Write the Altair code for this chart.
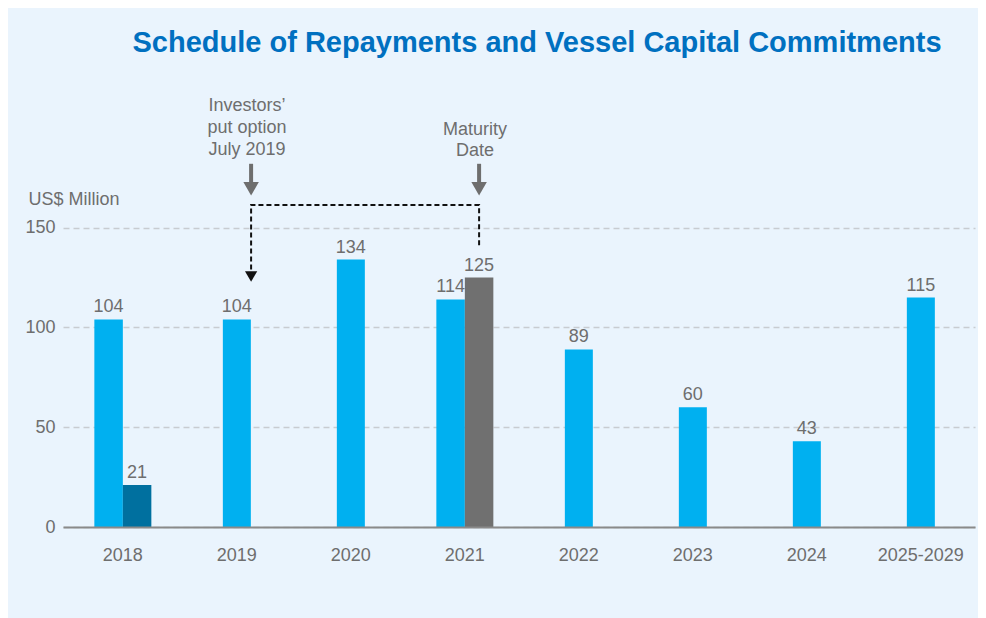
import altair as alt
import pandas as pd

# ---------------- data ----------------
categories = ["2018", "2019", "2020", "2021", "2022", "2023", "2024", "2025-2029"]
repayments = [104, 104, 134, 114, 89, 60, 43, 115]
extra_categories = ["2018", "2021"]
extra_values = [21, 125]
extra_kinds = ["Vessel capital commitments", "Bond maturity"]

note_lines = ["Investors\u2019", "put option", "July 2019", "Maturity", "Date"]
note_cats = ["2019", "2019", "2019", "2021", "2021"]
note_y = [211, 200, 189, 199, 188.5]

arrow_cats = ["2019", "2021"]
arrow_top = [182, 182]
arrow_bottom = [172, 172]
arrow_head = [169.5, 169.5]

path_cats = ["2019", "2019", "2021", "2021"]
path_y = [129, 161.4, 161.4, 141]
path_head_cat = ["2019"]
path_head_y = [125.5]

kinds = ["Repayments", "Vessel capital commitments", "Bond maturity"]
kind_colors = ["#00b0f0", "#00709f", "#707070"]

rows = []
for c, v in zip(categories, repayments):
    rows.append({"cat": c, "value": v, "kind": "Repayments",
                 "slot": "L" if c in extra_categories else "C"})
for c, v, k in zip(extra_categories, extra_values, extra_kinds):
    rows.append({"cat": c, "value": v, "kind": k, "slot": "R"})
df = pd.DataFrame(rows)
singles = df[df.slot == "C"]
pairs = df[df.slot != "C"]

notes = pd.DataFrame({"cat": note_cats, "value": note_y, "text": note_lines, "slot": "R"})
arrows = pd.DataFrame({"cat": arrow_cats, "value": arrow_top, "y2": arrow_bottom,
                       "h": arrow_head, "slot": "R"})
path = pd.DataFrame({"cat": path_cats, "value": path_y, "order": list(range(len(path_y))), "slot": "R"})
phead = pd.DataFrame({"cat": path_head_cat, "value": path_head_y, "slot": "R"})

# ---------------- styles ----------------
FONT = "Liberation Sans"
GRAY_TXT = "#6e6e6e"

xscale = alt.Scale(domain=categories, paddingInner=0.5, paddingOuter=0.25, align=0.55)
yscale = alt.Scale(domain=[0, 230], nice=False)
offscale = alt.Scale(domain=["L", "R"], paddingInner=0, paddingOuter=0)

X = alt.X("cat:N", scale=xscale, sort=categories,
          axis=alt.Axis(title=None, labelAngle=0, labelFontSize=18, labelColor=GRAY_TXT,
                        labelFont=FONT, labelPadding=19, ticks=False, domainColor="#8a8a8a",
                        domainWidth=2, grid=False, zindex=1))
YAXIS = alt.Axis(values=[0, 50, 100, 150], grid=True, gridDash=[6, 4], gridColor="#c8ccd1",
                 gridWidth=1.5, domain=False, ticks=False, labelFontSize=18,
                 labelColor=GRAY_TXT, labelFont=FONT, labelPadding=8,
                 title="US$ Million", titleAngle=0, titleAlign="left",
                 titleBaseline="middle", titleX=-35, titleY=131, titleFontSize=18,
                 titleFontWeight="normal", titleColor=GRAY_TXT, titleFont=FONT, zindex=0)
Y = alt.Y("value:Q", scale=yscale, axis=YAXIS)
XOFF = alt.XOffset("slot:N", scale=offscale)
COLOR = alt.Color("kind:N", scale=alt.Scale(domain=kinds, range=kind_colors), legend=None)

bars_single = alt.Chart(singles).mark_bar(size=28).encode(x=X, y=Y, color=COLOR)
bars_pair = alt.Chart(pairs).mark_bar().encode(x=X, xOffset=XOFF, y=Y, color=COLOR)

lab_single = alt.Chart(singles).mark_text(baseline="alphabetic", dy=-7, fontSize=18,
                                          font=FONT, color=GRAY_TXT).encode(
    x=X, y=Y, text="value:Q")
lab_pair = alt.Chart(pairs).mark_text(baseline="alphabetic", dy=-7, fontSize=18,
                                      font=FONT, color=GRAY_TXT).encode(
    x=X, xOffset=XOFF, y=Y, text="value:Q")

note_text = alt.Chart(notes).mark_text(baseline="middle", fontSize=18, font=FONT,
                                       color=GRAY_TXT, dx=-4).encode(
    x=X, xOffset=XOFF, y=Y, text="text:N")

arrow_shaft = alt.Chart(arrows).mark_rule(strokeWidth=4, color="#6e6e6e").encode(
    x=X, xOffset=XOFF, y=Y, y2="y2:Q")
arrow_tip = alt.Chart(arrows).mark_point(shape="triangle-down", filled=True, size=240,
                                         opacity=1, color="#6e6e6e").encode(
    x=X, xOffset=XOFF, y=alt.Y("h:Q", scale=yscale, axis=YAXIS))

dash_line = alt.Chart(path).mark_line(strokeDash=[5, 3], strokeWidth=2, color="#111111").encode(
    x=X, xOffset=XOFF, y=Y, order="order:Q")
dash_tip = alt.Chart(phead).mark_point(shape="triangle-down", filled=True, size=150,
                                       opacity=1, color="#111111").encode(
    x=X, xOffset=XOFF, y=Y)

chart = alt.layer(
    bars_single, bars_pair, lab_single, lab_pair, note_text,
    arrow_shaft, arrow_tip, dash_line, dash_tip
).properties(
    width=912, height=459,
    title=alt.Title("Schedule of Repayments and Vessel Capital Commitments",
                    fontSize=29, font=FONT, fontWeight="bold", color="#0070c0",
                    anchor="middle", dx=18, offset=10),
    autosize=alt.AutoSizeParams(type="none"),
    padding={"left": 55, "top": 60, "right": 3, "bottom": 91},
).configure(background="#eaf4fd").configure_view(stroke=None)

chart.save("out.html", embed_options={"renderer": "svg", "actions": False})
